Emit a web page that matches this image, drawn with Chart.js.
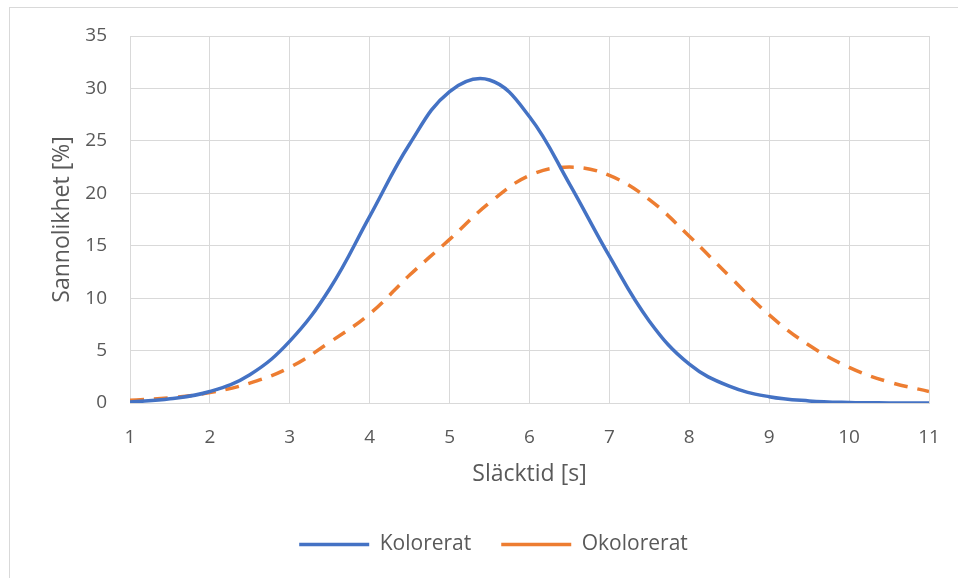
<!DOCTYPE html>
<html>
<head>
<meta charset="utf-8">
<script src="https://cdn.jsdelivr.net/npm/chart.js@4.4.1/dist/chart.umd.min.js"></script>
<style>
  html, body { margin: 0; padding: 0; background: #fff; overflow: hidden; }
  #wrap { position: relative; width: 958px; height: 578px; }
  #frame { position: absolute; left: 9px; top: 7px; width: 1000px; height: 1000px; border: 1px solid #d9d9d9; }
  canvas { position: absolute; left: 0; top: 0; }
</style>
</head>
<body>
<div id="wrap">
  <div id="frame"></div>
  <canvas id="chart" width="958" height="578"></canvas>
</div>
<script>
// x values (Släcktid, seconds)
const times = [1, 1.5, 2, 2.5, 3, 3.5, 4, 4.5, 5, 5.5, 6, 6.5, 7, 7.5, 8, 8.5, 9, 9.5, 10, 10.5, 11];

// probability in percent
const kolorerat = [0.1, 0.4, 1.1, 2.7, 5.9, 10.9, 17.8, 24.7, 29.7, 30.8, 27.3, 20.9, 14.0, 7.8, 3.7, 1.6, 0.6, 0.2, 0.05, 0.01, 0];
const okolorerat = [0.25, 0.5, 1.0, 1.9, 3.4, 5.8, 8.5, 12.2, 15.6, 19.1, 21.7, 22.5, 21.7, 19.4, 15.9, 12.1, 8.4, 5.5, 3.4, 2.0, 1.1];

const seriesNames = ['Kolorerat', 'Okolorerat'];
const xTitle = 'Släcktid [s]';
const yTitle = 'Sannolikhet [%]';

const textColor = '#595959';
const gridColor = '#d9d9d9';
const fontFamily = 'Open Sans';

function toPoints(values) {
    return times.map((t, i) => ({ x: t, y: values[i] }));
}

// legend sits a little right of the canvas centre in the original
const nudgeLegend = {
    id: 'nudgeLegend',
    afterLayout(chart) {
        chart.legend.left += 9;
        chart.legend.right += 9;
    }
};

const ctx = document.getElementById('chart').getContext('2d');

new Chart(ctx, {
    type: 'line',
    data: {
        datasets: [{
            label: seriesNames[0],
            data: toPoints(kolorerat),
            borderColor: '#4472c4',
            backgroundColor: '#4472c4',
            borderWidth: 3.5,
            pointRadius: 0,
            tension: 0.4,
            fill: false
        }, {
            label: seriesNames[1],
            data: toPoints(okolorerat),
            borderColor: '#ed7d31',
            backgroundColor: '#ed7d31',
            borderWidth: 3.5,
            borderDash: [14, 10],
            pointRadius: 0,
            tension: 0.4,
            fill: false
        }]
    },
    options: {
        responsive: false,
        animation: false,
        layout: {
            padding: { left: 40, right: 29, top: 36, bottom: 13 }
        },
        scales: {
            x: {
                type: 'linear',
                min: 1,
                max: 11,
                ticks: {
                    stepSize: 1,
                    color: textColor,
                    padding: 23,
                    font: { family: fontFamily, size: 19 }
                },
                grid: { color: gridColor, lineWidth: 1, drawTicks: false },
                border: { color: gridColor },
                title: {
                    display: true,
                    text: xTitle,
                    color: textColor,
                    padding: { top: 0, bottom: 16 },
                    font: { family: fontFamily, size: 23 }
                },
                afterFit: function (scale) {
                    scale.height = 101;
                    scale.paddingLeft = 0;
                    scale.paddingRight = 0;
                }
            },
            y: {
                min: 0,
                max: 35,
                ticks: {
                    stepSize: 5,
                    color: textColor,
                    padding: 23,
                    font: { family: fontFamily, size: 19 }
                },
                grid: { color: gridColor, lineWidth: 1, drawTicks: false },
                border: { color: gridColor },
                title: {
                    display: true,
                    text: yTitle,
                    color: textColor,
                    padding: { top: 9, bottom: 0 },
                    font: { family: fontFamily, size: 23 }
                },
                afterFit: function (scale) {
                    scale.width = 90;
                    scale.paddingTop = 0;
                    scale.paddingBottom = 0;
                }
            }
        },
        plugins: {
            legend: {
                position: 'bottom',
                labels: {
                    usePointStyle: true,
                    pointStyle: 'line',
                    pointStyleWidth: 70,
                    padding: 30,
                    color: textColor,
                    font: { family: fontFamily, size: 21 }
                }
            },
            tooltip: { enabled: false }
        }
    },
    plugins: [nudgeLegend]
});
</script>
</body>
</html>
